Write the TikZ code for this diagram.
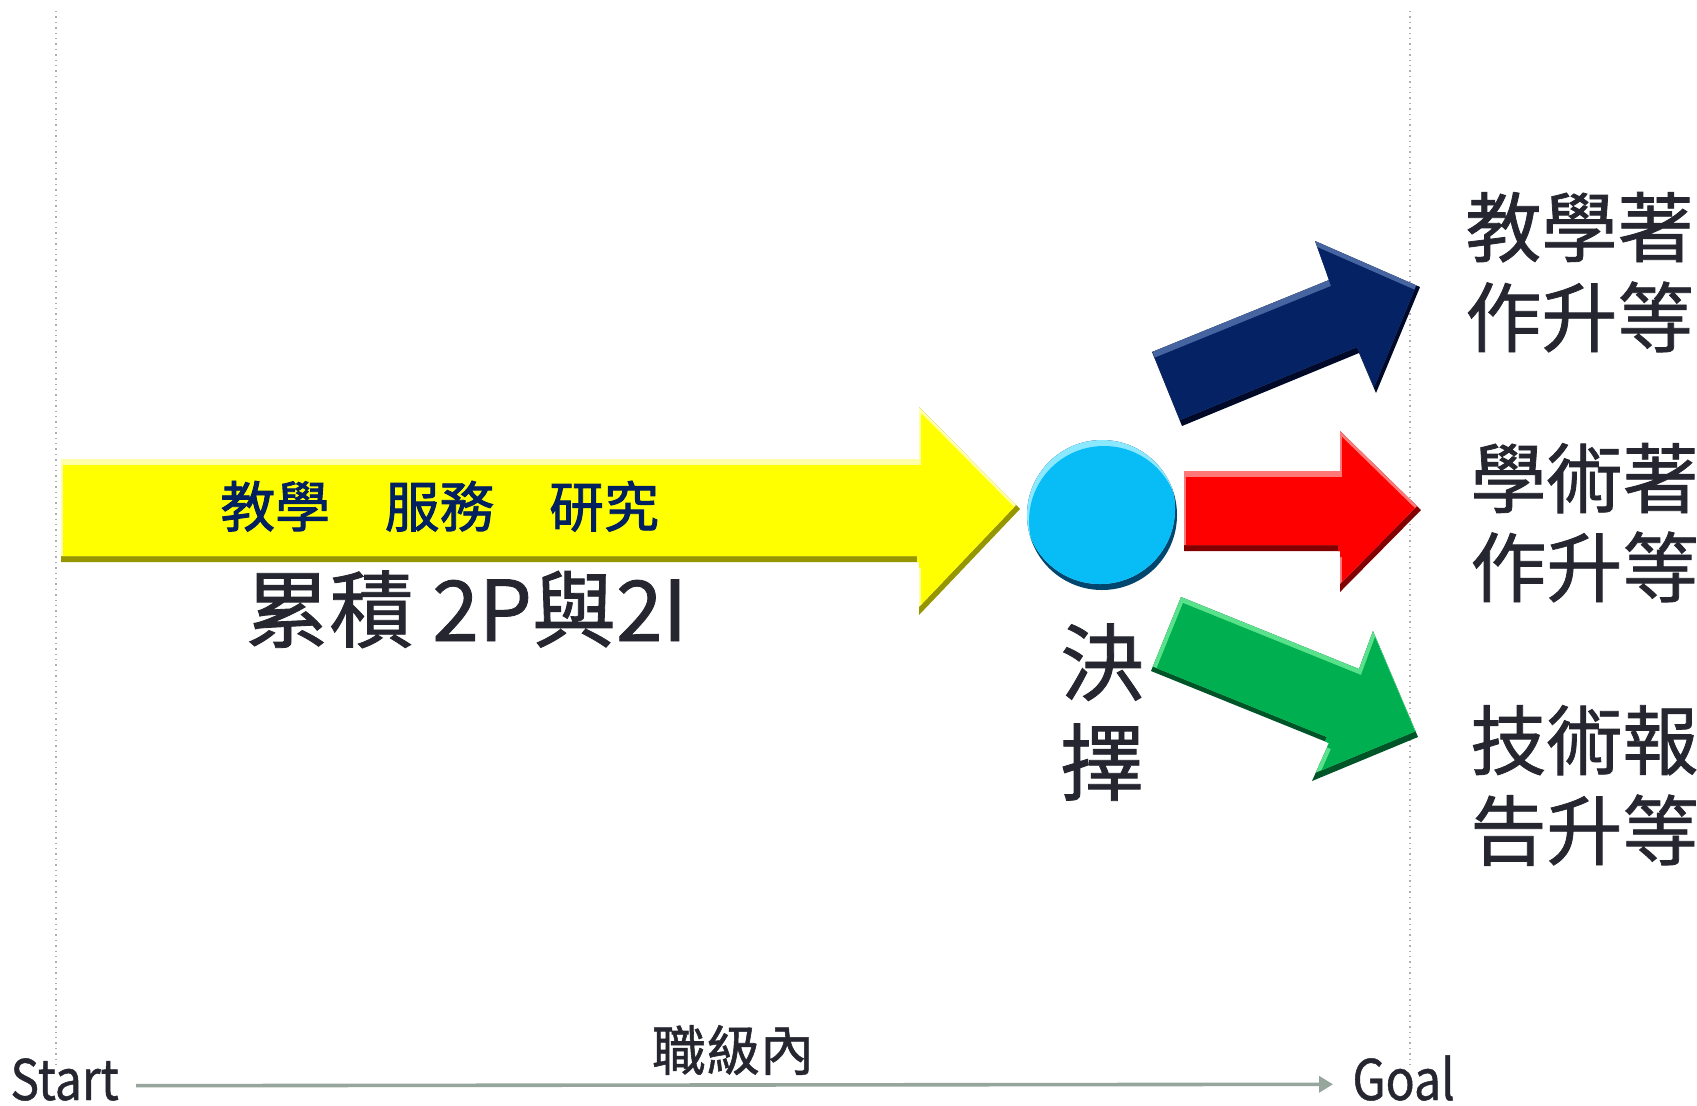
\documentclass[tikz,border=0pt]{standalone}
\usepackage{fontspec}
\setmainfont{Noto Sans CJK TC}[FakeBold=1]
\newfontfamily\heavy{Noto Sans CJK TC}[FakeBold=1.6]
\newfontfamily\narrow{Noto Sans CJK TC}[FakeStretch=0.86,FakeBold=0.8]
\usetikzlibrary{arrows.meta}
\definecolor{txt}{RGB}{38,38,48}
\definecolor{navy}{RGB}{0,32,96}
\definecolor{axisc}{RGB}{150,166,156}
\definecolor{guidec}{RGB}{175,175,175}
\definecolor{yB}{RGB}{255,255,0}\definecolor{yL}{RGB}{255,255,170}\definecolor{yD}{RGB}{150,150,0}
\definecolor{rB}{RGB}{255,0,0}\definecolor{rL}{RGB}{255,120,120}\definecolor{rD}{RGB}{130,0,0}
\definecolor{bB}{RGB}{4,34,100}\definecolor{bL}{RGB}{70,100,160}\definecolor{bD}{RGB}{0,10,40}
\definecolor{gB}{RGB}{0,176,80}\definecolor{gL}{RGB}{90,225,140}\definecolor{gD}{RGB}{0,85,40}
\definecolor{cB}{RGB}{8,188,245}\definecolor{cL}{RGB}{140,232,255}\definecolor{cD}{RGB}{0,70,110}
\newcommand\bevelfill[4]{%
  \fill[#4] #1;
  \begin{scope}
    \clip #1;
    \fill[#3, shift={(-2,-6)}] #1;
    \begin{scope}
      \clip[shift={(-2,-6)}] #1;
      \fill[#2, shift={(2,6)}] #1;
    \end{scope}
  \end{scope}}
\begin{document}
\begin{tikzpicture}[x=0.5pt,y=-0.5pt,
  guide/.style={draw=guidec,dotted,line width=0.7pt},
  axis/.style={draw=axisc,line width=1.8pt,-{Triangle[length=7pt,width=8pt]}},
  lbl/.style={inner sep=0pt,text=txt,font=\fontsize{38pt}{44pt}\selectfont,anchor=base west},
  big/.style={inner sep=0pt,text=txt,font=\fontsize{42pt}{48pt}\selectfont},
  small/.style={inner sep=0pt,text=txt,font=\narrow\fontsize{28pt}{32pt}\selectfont}]
\useasboundingbox (0,0) rectangle (1697,1105);
\fill[white] (0,0) rectangle (1697,1105);
% guides
\draw[guide] (56,11) -- (56,1068);
\draw[guide] (1410,11) -- (1410,1068);
% shapes
\def\pY{(61,459) -- (919,459) -- (919,407) -- (1020,509) -- (919,615) -- (919,562) -- (61,562) -- cycle}
\def\pR{(1184,471) -- (1340,471) -- (1340,431) -- (1421,510) -- (1340,592) -- (1340,551) -- (1184,551) -- cycle}
\def\pB{(1152,352) -- (1329,280) -- (1315,241) -- (1420,287) -- (1376,393) -- (1359,353) -- (1182,426) -- cycle}
\def\pG{(1181,597) -- (1359,669) -- (1373,631) -- (1418,737) -- (1312,781) -- (1329,743) -- (1151,671) -- cycle}
\def\pC{(1102,515) circle[radius=75]}
\bevelfill{\pY}{yB}{yL}{yD}
\bevelfill{\pR}{rB}{rL}{rD}
\bevelfill{\pB}{bB}{bL}{bD}
\bevelfill{\pG}{gB}{gL}{gD}
\bevelfill{\pC}{cB}{cL}{cD}
% texts
\node[inner sep=0pt,anchor=base west,text=navy,font=\heavy\fontsize{27.4pt}{30pt}\selectfont] (inner) at (220,527) {教學　服務　研究};
\node[big,anchor=base west] (accum) at (245,641) {累積 2P與2I};
\node[big,anchor=base] (jue) at (1102,694) {決};
\node[big,anchor=base] (ze) at (1102,794) {擇};
\node[lbl] (t1a) at (1465,256) {教學著};
\node[lbl] (t1b) at (1465,346) {作升等};
\node[lbl] (t2a) at (1470,507) {學術著};
\node[lbl] (t2b) at (1470,596) {作升等};
\node[lbl] (t3a) at (1470,769) {技術報};
\node[lbl] (t3b) at (1470,859) {告升等};
\node[inner sep=0pt,text=txt,font=\fontsize{27pt}{30pt}\selectfont] (rank) at (733,1050) {職級內};
\node[small,anchor=base west] (start) at (10,1100) {Start};
\node[small,anchor=base west] (goal) at (1352,1100) {Goal};
\draw[axis] ([xshift=8.5pt,yshift=-3.1pt]start.east) -- ([xshift=-9.5pt,yshift=-3.1pt]goal.west);
\end{tikzpicture}
\end{document}
